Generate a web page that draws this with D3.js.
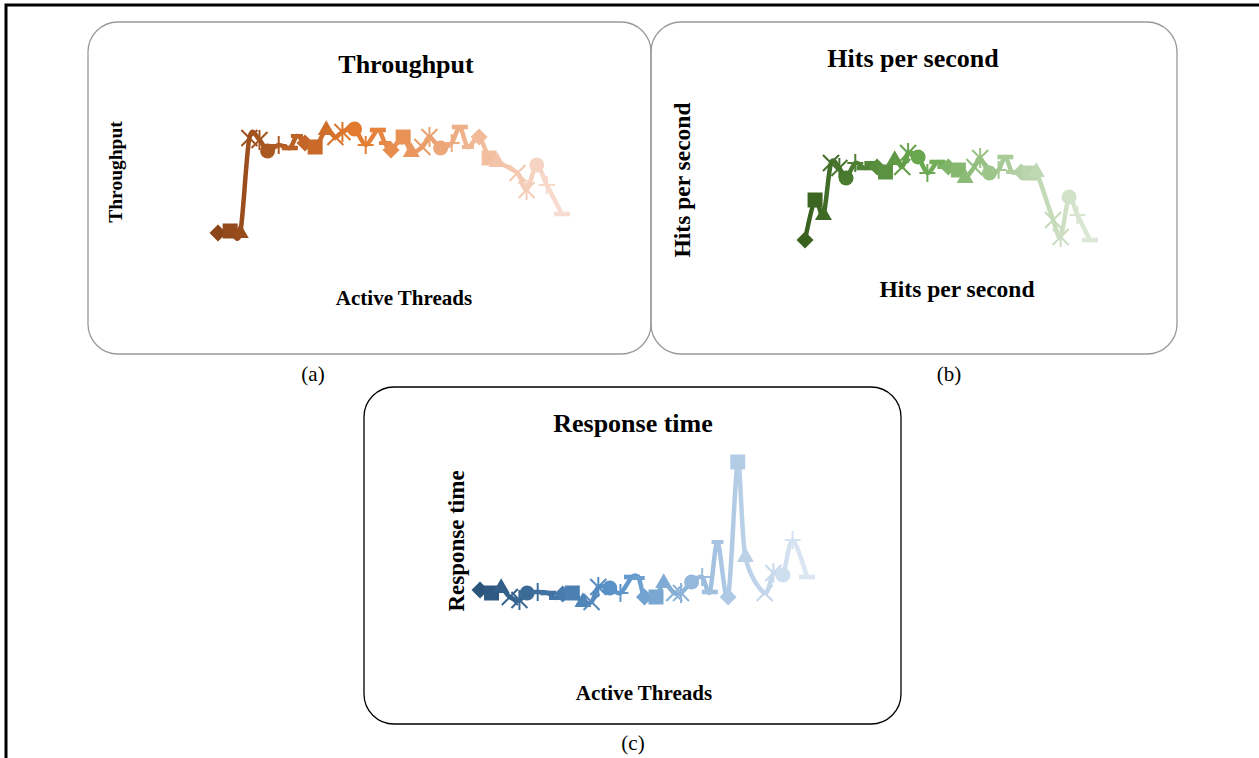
<!DOCTYPE html>
<html>
<head>
<meta charset="utf-8">
<script src="https://cdn.jsdelivr.net/npm/d3@7"></script>
<style>
  html, body { margin: 0; padding: 0; background: #fff; }
  svg { display: block; }
  text { font-family: "Liberation Serif", "Times New Roman", serif; }
</style>
</head>
<body>
<div id="chart"></div>
<script>
// shared x values (active threads)
const activeThreads = [1, 13, 23, 32, 42, 50, 61, 72, 79, 87, 97, 108, 117, 124, 136, 147, 159, 166,
  172, 184, 192, 203, 210, 221, 232, 240, 248, 259, 269, 277, 297, 306, 316, 326, 341];

const throughput = [17, 19, 17, 112, 110, 99, 105, 102, 114, 107, 103, 120, 113, 118, 121, 105, 120, 107,
  100, 113, 98, 103, 113, 102, 107, 123, 103, 113, 92, 88, 77, 60, 85, 65, 36];

const hitsPerSecond = [15, 55, 40, 92, 87, 77, 92, 87, 92, 88, 83, 95, 88, 102, 98, 82, 93, 88,
  88, 85, 77, 88, 97, 82, 85, 98, 83, 83, 82, 83, 35, 18, 58, 40, 15];

const responseTime = [22, 19, 24, 15, 12, 19, 20, 19, 14, 18, 19, 10, 10, 25, 24, 19, 35, 34,
  15, 15, 29, 19, 19, 30, 35, 20, 70, 15, 150, 55, 19, 39, 37, 72, 35];

// marker shapes cycle along the series
const markerOrder = ["diamond", "square", "triangle", "cross", "asterisk", "circle", "plus", "bar", "dash"];

const W = 1259, H = 758;
const svg = d3.select("#chart").append("svg").attr("width", W).attr("height", H);

// outer frame (top and left edges)
svg.append("path")
  .attr("d", "M6,758 L6,5 L1259,5")
  .attr("fill", "none").attr("stroke", "#000").attr("stroke-width", 3);

const panels = [
  {
    id: "a", box: [88, 22, 651, 354], boxStroke: "#999", caption: "(a)", capX: 313, capY: 381,
    title: "Throughput", titleX: 406, titleY: 73,
    yLabel: "Throughput", yLabX: 122, yLabY: 172, yLabSize: 19.5,
    xLabel: "Active Threads", xLabX: 404, xLabY: 305, xLabSize: 21,
    values: throughput, xr: [218, 562], yd: [0, 130], yr: [250, 120],
    colors: ["#8c4519", "#e37a2f", "#f8ddd3"]
  },
  {
    id: "b", box: [651, 22, 1177, 354], boxStroke: "#999", caption: "(b)", capX: 949, capY: 381,
    title: "Hits per second", titleX: 913, titleY: 67,
    yLabel: "Hits per second", yLabX: 690, yLabY: 180, yLabSize: 23.5,
    xLabel: "Hits per second", xLabX: 957, xLabY: 297, xLabSize: 23.5,
    values: hitsPerSecond, xr: [805, 1090], yd: [0, 130], yr: [255, 125],
    colors: ["#38601f", "#6aa84f", "#dde8d6"]
  },
  {
    id: "c", box: [364, 387, 901, 724], boxStroke: "#000", caption: "(c)", capX: 633, capY: 750,
    title: "Response time", titleX: 633, titleY: 432,
    yLabel: "Response time", yLabX: 464, yLabY: 541, yLabSize: 23,
    xLabel: "Active Threads", xLabX: 644, xLabY: 700, xLabSize: 21,
    values: responseTime, xr: [480, 807], yd: [0, 150], yr: [612, 462],
    colors: ["#2c557e", "#5a93c8", "#dce6f3"]
  }
];

function markerPath(type) {
  switch (type) {
    case "diamond": return "M0,-8.5L8.5,0L0,8.5L-8.5,0Z";
    case "square": return "M-7.5,-7.5H7.5V7.5H-7.5Z";
    case "triangle": return d3.symbol(d3.symbolTriangle, 125)();
    case "circle": return d3.symbol(d3.symbolCircle, 175)();
    case "bar": return "M-8,-2.3H8V2.3H-8Z";
    case "dash": return "M-6,-2H6V2H-6Z";
    default: return null;
  }
}

const defs = svg.append("defs");

panels.forEach(p => {
  const [x0, y0, x1, y1] = p.box;
  svg.append("rect")
    .attr("x", x0).attr("y", y0)
    .attr("width", x1 - x0).attr("height", y1 - y0)
    .attr("rx", 30).attr("ry", 30)
    .attr("fill", "none")
    .attr("stroke", p.boxStroke).attr("stroke-width", 1.3);

  svg.append("text")
    .attr("x", p.titleX).attr("y", p.titleY)
    .attr("text-anchor", "middle")
    .attr("font-size", 26).attr("font-weight", "bold")
    .text(p.title);

  svg.append("text")
    .attr("transform", `translate(${p.yLabX},${p.yLabY}) rotate(-90)`)
    .attr("text-anchor", "middle")
    .attr("font-size", p.yLabSize).attr("font-weight", "bold")
    .text(p.yLabel);

  svg.append("text")
    .attr("x", p.xLabX).attr("y", p.xLabY)
    .attr("text-anchor", "middle")
    .attr("font-size", p.xLabSize).attr("font-weight", "bold")
    .text(p.xLabel);

  svg.append("text")
    .attr("x", p.capX).attr("y", p.capY)
    .attr("text-anchor", "middle")
    .attr("font-size", 21)
    .text(p.caption);

  const x = d3.scaleLinear().domain(d3.extent(activeThreads)).range(p.xr);
  const y = d3.scaleLinear().domain(p.yd).range(p.yr);
  const n = p.values.length;
  const color = d3.scaleLinear()
    .domain([0, (n - 1) * 0.42, n - 1])
    .range(p.colors)
    .interpolate(d3.interpolateRgb);

  // horizontal gradient following the series colour
  const grad = defs.append("linearGradient")
    .attr("id", "grad-" + p.id)
    .attr("gradientUnits", "userSpaceOnUse")
    .attr("x1", p.xr[0]).attr("x2", p.xr[1])
    .attr("y1", 0).attr("y2", 0);
  grad.selectAll("stop")
    .data(activeThreads)
    .join("stop")
    .attr("offset", d => (x(d) - p.xr[0]) / (p.xr[1] - p.xr[0]))
    .attr("stop-color", (d, i) => color(i));

  const pts = activeThreads.map((t, i) => ({ t, v: p.values[i], i }));

  const line = d3.line()
    .x(d => x(d.t))
    .y(d => y(d.v))
    .curve(d3.curveCardinal.tension(0.1));

  svg.append("path")
    .datum(pts)
    .attr("d", line)
    .attr("fill", "none")
    .attr("stroke", `url(#grad-${p.id})`)
    .attr("stroke-width", 4.5)
    .attr("stroke-linejoin", "round");

  const g = svg.append("g");
  const m = g.selectAll("g.mk")
    .data(pts)
    .join("g")
    .attr("class", "mk")
    .attr("transform", d => `translate(${x(d.t)},${y(d.v)})`);

  m.each(function(d) {
    const sel = d3.select(this);
    const type = markerOrder[d.i % markerOrder.length];
    const c = color(d.i);
    const path = markerPath(type);
    if (path) {
      sel.append("path").attr("d", path).attr("fill", c);
    } else {
      let segs = [];
      if (type === "cross") segs = [[-8, -8, 8, 8], [-8, 8, 8, -8]];
      if (type === "asterisk") segs = [[-8, -8, 8, 8], [-8, 8, 8, -8], [0, -10, 0, 10]];
      if (type === "plus") segs = [[-8, 0, 8, 0], [0, -9, 0, 9]];
      segs.forEach(s => {
        sel.append("line")
          .attr("x1", s[0]).attr("y1", s[1]).attr("x2", s[2]).attr("y2", s[3])
          .attr("stroke", c).attr("stroke-width", 2);
      });
    }
  });
});
</script>
</body>
</html>
